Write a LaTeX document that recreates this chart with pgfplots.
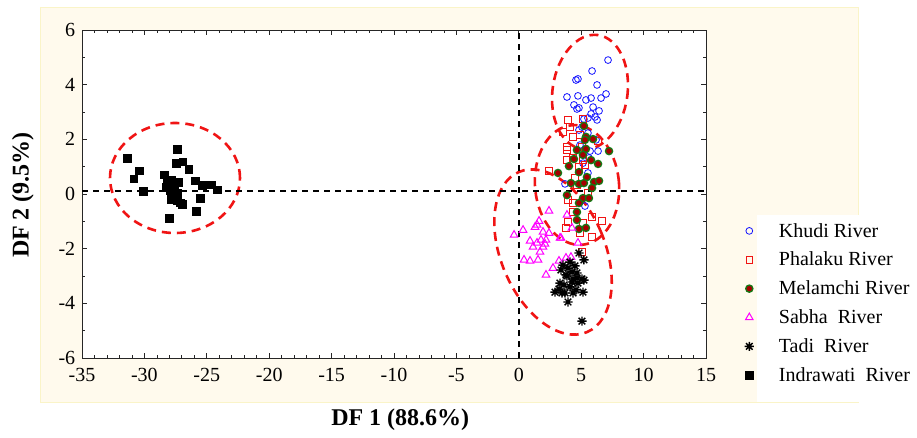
\documentclass[border=0pt]{standalone}
\usepackage{fontspec}
\setmainfont{Liberation Serif}
\usepackage{pgfplots}
\pgfplotsset{compat=1.18}

\definecolor{panel}{RGB}{255,250,237}
\definecolor{paneledge}{RGB}{250,244,200}
\definecolor{ellred}{RGB}{240,20,20}
\definecolor{khudi}{RGB}{20,20,255}
\definecolor{phalaku}{RGB}{240,20,20}
\definecolor{melfill}{RGB}{165,0,0}
\definecolor{meledge}{RGB}{20,120,20}
\definecolor{sabha}{RGB}{255,0,255}

% eight-pointed star for Tadi
\pgfdeclareplotmark{ast8}{%
  \pgfpathmoveto{\pgfqpoint{-\pgfplotmarksize}{0pt}}\pgfpathlineto{\pgfqpoint{\pgfplotmarksize}{0pt}}%
  \pgfpathmoveto{\pgfqpoint{0pt}{-\pgfplotmarksize}}\pgfpathlineto{\pgfqpoint{0pt}{\pgfplotmarksize}}%
  \pgfpathmoveto{\pgfqpoint{-.72\pgfplotmarksize}{-.72\pgfplotmarksize}}\pgfpathlineto{\pgfqpoint{.72\pgfplotmarksize}{.72\pgfplotmarksize}}%
  \pgfpathmoveto{\pgfqpoint{-.72\pgfplotmarksize}{.72\pgfplotmarksize}}\pgfpathlineto{\pgfqpoint{.72\pgfplotmarksize}{-.72\pgfplotmarksize}}%
  \pgfusepathqstroke}

\begin{document}
\begin{tikzpicture}
\useasboundingbox (0,0) rectangle (917pt,437pt);
% background panel, white legend area and white plot area
\fill[white] (0,0) rectangle (917pt,437pt);
\draw[paneledge, fill=panel, line width=0.8pt] (40pt,35pt) rectangle (858pt,430pt);
\fill[white] (757pt,35.4pt) rectangle (917pt,222pt);
\fill[white] (82pt,79pt) rectangle (706pt,407pt);

% group ellipses
\begin{scope}[ellred, line width=2.6pt, dash pattern=on 9pt off 6pt]
  \draw (175pt,259pt) ellipse [x radius=65pt, y radius=55pt];
  \draw[rotate around={-8:(590pt,345pt)}] (590pt,345pt) ellipse [x radius=37.5pt, y radius=57.5pt];
  \draw[rotate around={5:(577pt,252pt)}] (577pt,252pt) ellipse [x radius=42pt, y radius=60pt];
  \draw[rotate around={23:(553pt,185pt)}] (553pt,185pt) ellipse [x radius=52pt, y radius=87pt];
\end{scope}

\begin{axis}[
  at={(82pt,79pt)}, anchor=south west,
  width=624pt, height=328pt, scale only axis,
  xmin=-35, xmax=15, ymin=-6, ymax=6,
  xtick={-35,-30,...,15},
  xticklabels={-35,-30,-25,-20,-15,-10,-5,0,5,10,15},
  ytick={-6,-4,...,6},
  yticklabels={-6,-4,-2,0,2,4,6},
  minor x tick num=4, minor y tick num=1,
  tick align=inside,
  major tick length=5pt, minor tick length=3pt,
  axis line style={black!85, line width=0.8pt},
  every tick/.style={black!85, line width=0.7pt},
  tick label style={font=\fontsize{20}{20}\selectfont},
  xticklabel style={yshift=-7pt},
  yticklabel style={xshift=-3.3pt},
  xlabel={DF 1 (88.6\%)},
  ylabel={DF 2 (9.5\%)},
  label style={font=\fontsize{24}{24}\selectfont\bfseries},
  xlabel style={at={(axis description cs:0.51,-0.189)}, anchor=center},
  ylabel style={at={(axis description cs:-0.0946,0.497)}, anchor=center},
  clip=false,
  legend cell align=left,
  legend style={draw=none, fill=none, inner sep=0pt,
    at={(1.0617,0.4177)}, anchor=north west,
    font=\fontsize{20}{20}\selectfont,
    row sep=9.5pt,
    nodes={inner sep=2pt},
    /tikz/every odd column/.append style={column sep=23pt}},
]
% crosshair lines
\draw[black, line width=1.6pt, dash pattern=on 6pt off 5pt] (axis cs:0,-6) -- (axis cs:0,6);
\draw[black, line width=1.6pt, dash pattern=on 6pt off 5pt] (axis cs:-35,0.1) -- (axis cs:15,0.1);

% Khudi River
\addplot[only marks, mark=o, mark size=3.4pt, draw=khudi, line width=0.8pt] coordinates {
(7.15,4.90) (5.87,4.50) (4.58,4.17) (4.74,4.21) (6.27,3.99) (3.86,3.55) (4.74,3.59)
(5.38,3.44) (5.79,3.51) (6.59,3.51) (6.99,3.66) (4.42,3.26) (4.66,3.11) (4.82,3.15)
(5.95,3.18) (6.43,3.04) (5.79,2.93) (6.11,2.82) (6.27,2.71) (5.54,2.78) (5.22,2.74)
(5.06,2.45) (4.82,2.34) (5.54,2.23) (5.71,1.57) (6.35,1.57) (5.62,1.32) (5.14,1.13)
(5.54,0.77) (3.70,0.37) (5.30,-0.44) (6.19,1.98) (4.90,1.79)
};
\addlegendentry{Khudi River}
% Phalaku River
\addplot[only marks, mark=square, mark size=3.3pt, draw=phalaku, line width=0.8pt] coordinates {
(3.94,2.71) (5.14,2.74) (4.10,2.45) (3.54,2.27) (4.34,2.09) (4.90,2.16) (3.86,1.72)
(3.86,1.61) (4.34,1.32) (5.14,1.24) (4.82,0.99) (6.35,1.94) (5.06,1.72) (2.42,0.84)
(5.30,1.06) (3.94,-0.22) (4.34,-0.33) (5.87,-0.84) (3.94,-1.02) (3.78,-1.24) (4.90,-1.43)
(5.87,-1.57) (5.06,-2.12) (3.86,1.24) (4.34,-0.66) (5.54,0.04) (5.14,-1.06) (6.67,-0.99)
(4.66,0.33) (4.50,0.59)
};
\addlegendentry{Phalaku River}
% Melamchi River
\addplot[only marks, mark=*, mark size=3.6pt, draw=meledge, fill=melfill, line width=1.3pt] coordinates {
(5.22,2.49) (5.38,2.09) (5.95,2.01) (7.23,1.57) (4.66,1.61) (5.38,1.65) (5.14,1.43)
(4.42,1.28) (6.35,1.10) (4.02,1.02) (3.14,0.77) (4.82,0.80) (5.46,0.62) (6.03,0.44)
(4.18,0.40) (4.82,0.37) (5.22,0.40) (6.43,0.48) (3.86,-0.04) (5.14,-0.15) (5.62,-0.15)
(4.82,-0.33) (4.66,-0.66) (4.66,-0.95) (4.82,-1.28) (5.38,-1.24) (5.87,0.22) (5.30,1.98)
(5.79,1.24)
};
\addlegendentry{Melamchi River}
% Sabha River
\addplot[only marks, mark=triangle, mark size=4.4pt, draw=sabha, line width=1pt] coordinates {
(-0.38,-1.50) (0.34,-1.32) (2.42,-0.62) (1.62,-0.99) (1.46,-1.13) (1.30,-1.21) (1.94,-1.39)
(2.42,-1.43) (0.90,-1.72) (1.46,-1.79) (1.14,-1.94) (1.94,-1.94) (1.70,-2.12) (0.42,-2.41)
(0.90,-2.45) (1.54,-2.41) (3.30,-1.61) (3.86,-0.77) (4.26,-1.24) (4.74,-1.79) (2.74,-2.71)
(3.22,-2.45) (2.18,-2.96) (3.78,-2.34) (4.18,-2.31) (2.18,-1.68) (1.78,-1.68) (2.10,-1.83)
(3.38,-1.61)
};
\addlegendentry{Sabha\hspace{0.5em}River}
% Tadi River
\addplot[only marks, mark=ast8, mark size=4.6pt, draw=black, line width=1.4pt] coordinates {
(4.82,-2.16) (5.22,-2.41) (3.54,-2.60) (3.94,-2.71) (4.26,-2.85) (4.66,-2.89) (3.78,-2.96)
(4.34,-3.11) (5.06,-3.11) (3.62,-3.33) (3.22,-3.48) (2.90,-3.59) (4.10,-3.40) (4.58,-3.51)
(5.14,-3.59) (3.70,-3.62) (4.34,-3.62) (3.94,-3.95) (5.06,-4.65) (3.30,-3.26) (4.74,-3.26)
(5.22,-3.15) (3.86,-3.00) (4.66,-3.07) (4.26,-3.22) (3.46,-3.62) (3.38,-2.78) (4.10,-2.49)
(4.50,-2.63)
};
\addlegendentry{Tadi\hspace{0.5em}River}
% Indrawati River
\addplot[only marks, mark=square*, mark size=3.8pt, black] coordinates {
(-31.37,1.32) (-27.36,1.65) (-30.41,0.85) (-30.86,0.56) (-27.47,1.12) (-26.93,1.18)
(-26.45,0.91) (-28.43,0.71) (-27.84,0.51) (-27.31,0.43) (-25.92,0.49) (-25.36,0.33)
(-24.66,0.34) (-24.18,0.16) (-30.11,0.10) (-28.27,0.24) (-27.95,0.12) (-27.57,0.15)
(-27.36,0.02) (-27.87,-0.19) (-27.36,-0.22) (-26.99,-0.37) (-27.12,-0.32) (-25.54,-0.16)
(-25.84,-0.62) (-28.03,-0.88) (-27.68,0.33) (-28.16,0.43)
};
\addlegendentry{Indrawati\hspace{0.5em}River}
\end{axis}
\end{tikzpicture}
\end{document}
